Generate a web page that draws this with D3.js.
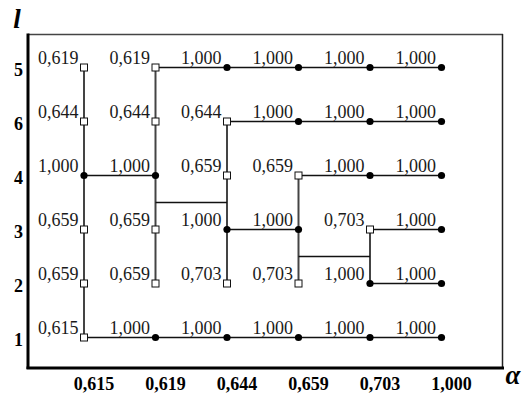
<!DOCTYPE html>
<html>
<head>
<meta charset="utf-8">
<script src="https://cdn.jsdelivr.net/npm/d3@7"></script>
<style>
  body { margin: 0; background: #fff; }
  svg { display: block; }
  text { font-family: "Liberation Serif", "Times New Roman", serif; }
</style>
</head>
<body>
<svg id="chart" width="526" height="393"></svg>
<script>
// alpha levels (columns) and l values (rows, top to bottom)
var alphas = ['0,615', '0,619', '0,644', '0,659', '0,703', '1,000'];
var rows = ['5', '6', '4', '3', '2', '1'];

// cell values, one list per row
var row5 = [0.619, 0.619, 1.000, 1.000, 1.000, 1.000];
var row6 = [0.644, 0.644, 0.644, 1.000, 1.000, 1.000];
var row4 = [1.000, 1.000, 0.659, 0.659, 1.000, 1.000];
var row3 = [0.659, 0.659, 1.000, 1.000, 0.703, 1.000];
var row2 = [0.659, 0.659, 0.703, 0.703, 1.000, 1.000];
var row1 = [0.615, 1.000, 1.000, 1.000, 1.000, 1.000];
var values = [row5, row6, row4, row3, row2, row1];

// links: [col from, row from, col to, row to] in column / row index
var vLinks = [[0, 0, 0, 5], [1, 0, 1, 4], [2, 1, 2, 4], [3, 2, 3, 4], [4, 3, 4, 4]];
var hLinks = [[1, 0, 5, 0], [2, 1, 5, 1], [0, 2, 1, 2], [3, 2, 5, 2],
              [2, 3, 3, 3], [4, 3, 5, 3], [4, 4, 5, 4], [0, 5, 5, 5],
              [1, 2.5, 2, 2.5], [3, 3.5, 4, 3.5]];

var svg = d3.select('#chart');

var x = d3.scaleLinear().domain([0, alphas.length - 1]).range([84, 441.5]);
var y = d3.scaleLinear().domain([0, rows.length - 1]).range([67.5, 337.5]);

// frame
svg.append('line').attr('x1', 28).attr('y1', 34.5).attr('x2', 503).attr('y2', 34.5)
  .attr('stroke', '#444').attr('stroke-width', 1.5);
svg.append('line').attr('x1', 502.5).attr('y1', 34).attr('x2', 502.5).attr('y2', 368)
  .attr('stroke', '#222').attr('stroke-width', 1.5);
svg.append('line').attr('x1', 28).attr('y1', 33.5).attr('x2', 28).attr('y2', 369)
  .attr('stroke', '#000').attr('stroke-width', 3);
svg.append('line').attr('x1', 26.5).attr('y1', 368).attr('x2', 504).attr('y2', 368)
  .attr('stroke', '#000').attr('stroke-width', 3);

// links
svg.selectAll('.vlink')
  .data(vLinks)
  .enter()
  .append('line')
  .attr('class', 'vlink')
  .attr('x1', function(d) { return x(d[0]); })
  .attr('y1', function(d) { return y(d[1]); })
  .attr('x2', function(d) { return x(d[2]); })
  .attr('y2', function(d) { return y(d[3]); })
  .attr('stroke', '#444')
  .attr('stroke-width', 2);

svg.selectAll('.hlink')
  .data(hLinks)
  .enter()
  .append('line')
  .attr('class', 'hlink')
  .attr('x1', function(d) { return x(d[0]); })
  .attr('y1', function(d) { return y(d[1]); })
  .attr('x2', function(d) { return x(d[2]); })
  .attr('y2', function(d) { return y(d[3]); })
  .attr('stroke', '#111')
  .attr('stroke-width', 1.5);

// cells
var cells = [];
values.forEach(function(r, i) {
  r.forEach(function(v, j) { cells.push({row: i, col: j, value: v}); });
});

var fmt = function(v) { return d3.format('.3f')(v).replace('.', ','); };

svg.selectAll('.val')
  .data(cells)
  .enter()
  .append('text')
  .attr('class', 'val')
  .attr('x', function(d) { return x(d.col) - 5.5; })
  .attr('y', function(d) { return y(d.row) - 4; })
  .attr('text-anchor', 'end')
  .attr('font-size', 18)
  .attr('fill', '#1a1a1a')
  .text(function(d) { return fmt(d.value); });

svg.selectAll('.sq')
  .data(cells.filter(function(d) { return d.value < 1; }))
  .enter()
  .append('rect')
  .attr('class', 'sq')
  .attr('x', function(d) { return x(d.col) - 3.5; })
  .attr('y', function(d) { return y(d.row) - 3.5; })
  .attr('width', 7)
  .attr('height', 7)
  .attr('fill', '#fff')
  .attr('stroke', '#111')
  .attr('stroke-width', 1);

svg.selectAll('.dot')
  .data(cells.filter(function(d) { return d.value >= 1; }))
  .enter()
  .append('circle')
  .attr('class', 'dot')
  .attr('cx', function(d) { return x(d.col); })
  .attr('cy', function(d) { return y(d.row); })
  .attr('r', 3.6)
  .attr('fill', '#000');

// axes (labels only)
var xAxis = d3.axisBottom(x)
  .tickValues(d3.range(alphas.length))
  .tickFormat(function(d) { return alphas[d]; })
  .tickSize(0);
var gx = svg.append('g').attr('transform', 'translate(9.5,374)').call(xAxis);
gx.select('.domain').remove();
gx.selectAll('text')
  .attr('font-family', '"Liberation Serif", serif')
  .attr('font-size', 18)
  .attr('font-weight', 'bold')
  .attr('fill', '#000');

var yAxis = d3.axisLeft(y)
  .tickValues(d3.range(rows.length))
  .tickFormat(function(d) { return rows[d]; })
  .tickSize(0);
var gy = svg.append('g').attr('transform', 'translate(26,2)').call(yAxis);
gy.select('.domain').remove();
gy.selectAll('text')
  .attr('font-family', '"Liberation Serif", serif')
  .attr('font-size', 18)
  .attr('font-weight', 'bold')
  .attr('fill', '#000');

// axis titles
svg.append('text')
  .attr('x', 17).attr('y', 28)
  .attr('text-anchor', 'middle')
  .attr('font-size', 27)
  .attr('font-weight', 'bold')
  .attr('font-style', 'italic')
  .text('l');
svg.append('text')
  .attr('x', 513).attr('y', 384)
  .attr('text-anchor', 'middle')
  .attr('font-size', 27)
  .attr('font-weight', 'bold')
  .attr('font-style', 'italic')
  .text('α');
</script>
</body>
</html>
